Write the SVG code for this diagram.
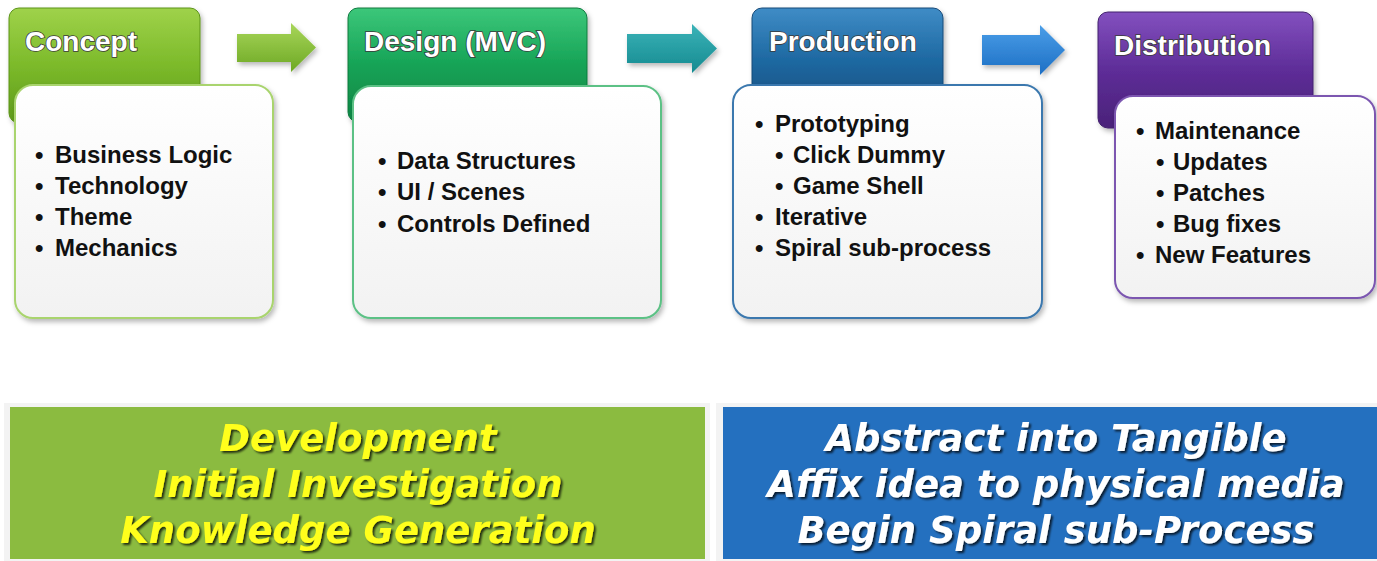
<svg xmlns="http://www.w3.org/2000/svg" width="1377" height="561" viewBox="0 0 1377 561">
  <defs>
    <linearGradient id="gConcept" x1="0" y1="0" x2="0" y2="1">
      <stop offset="0" stop-color="#9fd24a"/>
      <stop offset="0.5" stop-color="#7cba2a"/>
      <stop offset="1" stop-color="#5e9a1c"/>
    </linearGradient>
    <linearGradient id="gDesign" x1="0" y1="0" x2="0" y2="1">
      <stop offset="0" stop-color="#3cc77a"/>
      <stop offset="0.5" stop-color="#16a356"/>
      <stop offset="1" stop-color="#0e8544"/>
    </linearGradient>
    <linearGradient id="gProd" x1="0" y1="0" x2="0" y2="1">
      <stop offset="0" stop-color="#3f8cc6"/>
      <stop offset="0.5" stop-color="#1f6aa3"/>
      <stop offset="1" stop-color="#174f80"/>
    </linearGradient>
    <linearGradient id="gDist" x1="0" y1="0" x2="0" y2="1">
      <stop offset="0" stop-color="#8350bf"/>
      <stop offset="0.5" stop-color="#5e2d98"/>
      <stop offset="1" stop-color="#4a2279"/>
    </linearGradient>
    <linearGradient id="gCard" x1="0" y1="0" x2="0" y2="1">
      <stop offset="0" stop-color="#ffffff"/>
      <stop offset="1" stop-color="#f2f2f2"/>
    </linearGradient>
    <linearGradient id="aGreen" x1="0" y1="0" x2="0" y2="1">
      <stop offset="0" stop-color="#a8d65a"/>
      <stop offset="1" stop-color="#6da823"/>
    </linearGradient>
    <linearGradient id="aTeal" x1="0" y1="0" x2="0" y2="1">
      <stop offset="0" stop-color="#3bb3b8"/>
      <stop offset="1" stop-color="#158a90"/>
    </linearGradient>
    <linearGradient id="aBlue" x1="0" y1="0" x2="0" y2="1">
      <stop offset="0" stop-color="#4a9ee8"/>
      <stop offset="1" stop-color="#1d6fc4"/>
    </linearGradient>
    <filter id="shadow" x="-10%" y="-10%" width="125%" height="130%">
      <feDropShadow dx="2" dy="3" stdDeviation="2.5" flood-color="#000" flood-opacity="0.28"/>
    </filter>
    <filter id="tshadow" x="-5%" y="-20%" width="115%" height="150%">
      <feDropShadow dx="2" dy="2" stdDeviation="1.2" flood-color="#000" flood-opacity="0.75"/>
    </filter>
    <style>
      .head { font-family: "Liberation Sans", Arial, sans-serif; font-weight: bold; font-size: 28px; fill: #ffffff; stroke: #3a3a3a; stroke-width: 1.6; paint-order: stroke; }
      .item { font-family: "Liberation Sans", Arial, sans-serif; font-weight: bold; font-size: 24px; fill: #111111; }
      .band { font-family: "DejaVu Sans", Verdana, sans-serif; font-weight: bold; font-style: italic; font-size: 37px; text-anchor: middle; }
      .card { fill: url(#gCard); stroke-width: 2; }
      .tab { stroke-width: 1; }
    </style>
  </defs>

  <rect width="1377" height="561" fill="#ffffff"/>

  <!-- phase connectors -->
  <g id="connectors" filter="url(#shadow)">
    <path d="M237,34 H291 V23 L316,47.5 L291,72 V62 H237 Z" fill="url(#aGreen)"/>
    <path d="M627,34 H692 V24 L717,48.5 L692,73 V63 H627 Z" fill="url(#aTeal)"/>
    <path d="M982,35 H1040 V25 L1065,50 L1040,75 V65 H982 Z" fill="url(#aBlue)"/>
  </g>

  <!-- Concept -->
  <g id="concept">
    <rect class="tab" x="9" y="8" width="191" height="115" rx="10" fill="url(#gConcept)" stroke="#5c9419" filter="url(#shadow)"/>
    <text class="head" x="25" y="51">Concept</text>
    <rect class="card" x="15" y="85" width="258" height="233" rx="18" stroke="#a9d46e" filter="url(#shadow)"/>
    <text class="item" y="163"><tspan x="35">•</tspan><tspan x="55">Business Logic</tspan></text>
    <text class="item" y="194"><tspan x="35">•</tspan><tspan x="55">Technology</tspan></text>
    <text class="item" y="225"><tspan x="35">•</tspan><tspan x="55">Theme</tspan></text>
    <text class="item" y="256"><tspan x="35">•</tspan><tspan x="55">Mechanics</tspan></text>
  </g>

  <!-- Design -->
  <g id="design">
    <rect class="tab" x="348" y="8" width="239" height="114" rx="10" fill="url(#gDesign)" stroke="#0e7a3e" filter="url(#shadow)"/>
    <text class="head" x="364" y="51">Design (MVC)</text>
    <rect class="card" x="353" y="86" width="308" height="232" rx="18" stroke="#5cc185" filter="url(#shadow)"/>
    <text class="item" y="169"><tspan x="378">•</tspan><tspan x="397">Data Structures</tspan></text>
    <text class="item" y="200"><tspan x="378">•</tspan><tspan x="397">UI / Scenes</tspan></text>
    <text class="item" y="232"><tspan x="378">•</tspan><tspan x="397">Controls Defined</tspan></text>
  </g>

  <!-- Production -->
  <g id="production">
    <rect class="tab" x="752" y="8" width="191" height="100" rx="10" fill="url(#gProd)" stroke="#164a78" filter="url(#shadow)"/>
    <text class="head" x="769" y="51">Production</text>
    <rect class="card" x="733" y="85" width="309" height="233" rx="18" stroke="#3b78ae" filter="url(#shadow)"/>
    <text class="item" y="132"><tspan x="755">•</tspan><tspan x="775">Prototyping</tspan></text>
    <text class="item" y="163"><tspan x="775">•</tspan><tspan x="793">Click Dummy</tspan></text>
    <text class="item" y="194"><tspan x="775">•</tspan><tspan x="793">Game Shell</tspan></text>
    <text class="item" y="225"><tspan x="755">•</tspan><tspan x="775">Iterative</tspan></text>
    <text class="item" y="256"><tspan x="755">•</tspan><tspan x="775">Spiral sub-process</tspan></text>
  </g>

  <!-- Distribution -->
  <g id="distribution">
    <rect class="tab" x="1098" y="12" width="215" height="116" rx="10" fill="url(#gDist)" stroke="#43206e" filter="url(#shadow)"/>
    <text class="head" x="1114" y="55">Distribution</text>
    <rect class="card" x="1115" y="96" width="260" height="202" rx="18" stroke="#7b57b0" filter="url(#shadow)"/>
    <text class="item" y="139"><tspan x="1136">•</tspan><tspan x="1155">Maintenance</tspan></text>
    <text class="item" y="170"><tspan x="1156">•</tspan><tspan x="1173">Updates</tspan></text>
    <text class="item" y="201"><tspan x="1156">•</tspan><tspan x="1173">Patches</tspan></text>
    <text class="item" y="232"><tspan x="1156">•</tspan><tspan x="1173">Bug fixes</tspan></text>
    <text class="item" y="263"><tspan x="1136">•</tspan><tspan x="1155">New Features</tspan></text>
  </g>

  <!-- summary bands -->
  <g id="band-development">
    <rect x="4" y="403" width="706" height="158" fill="#f3f3f3"/>
    <rect x="10" y="407" width="695" height="152" fill="#8bbb40"/>
    <g class="band" fill="#ffff1a" filter="url(#tshadow)">
      <text x="358" y="451">Development</text>
      <text x="358" y="497">Initial Investigation</text>
      <text x="358" y="543">Knowledge Generation</text>
    </g>
  </g>

  <g id="band-tangible">
    <rect x="716" y="403" width="661" height="158" fill="#f3f3f3"/>
    <rect x="723" y="407" width="654" height="152" fill="#2470bf"/>
    <g class="band" fill="#ffffff" filter="url(#tshadow)">
      <text x="1056" y="451">Abstract into Tangible</text>
      <text x="1056" y="497">Affix idea to physical media</text>
      <text x="1056" y="543">Begin Spiral sub-Process</text>
    </g>
  </g>
</svg>
